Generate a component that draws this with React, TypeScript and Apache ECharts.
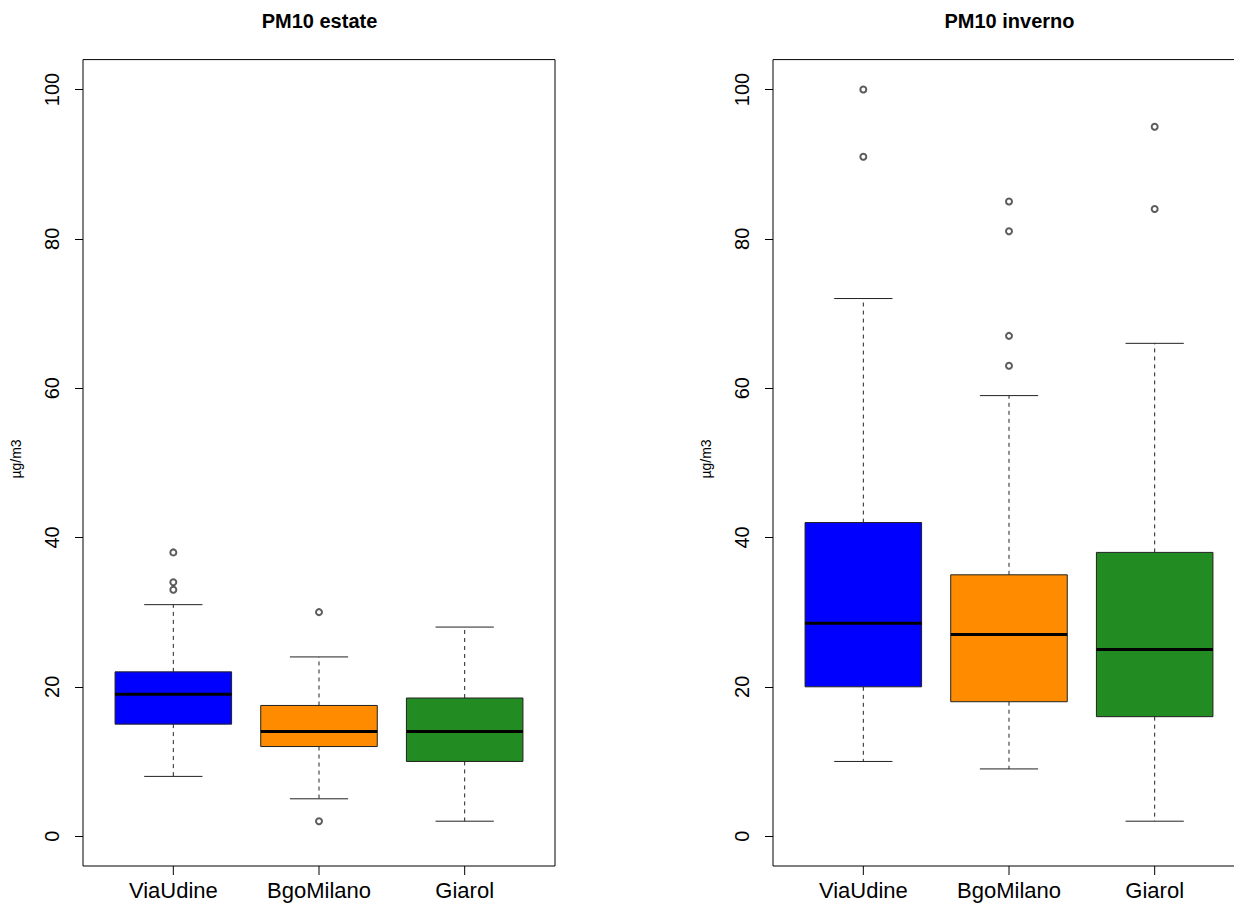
import React, { useEffect, useRef } from "react";
import * as echarts from "echarts";

const categories = ["ViaUdine", "BgoMilano", "Giarol"];
const boxColors = ["#0000FF", "#FF8C00", "#228B22"];
const yTicks = [0, 20, 40, 60, 80, 100];
const xTicks = [1, 2, 3];

// [lowerWhisker, q1, median, q3, upperWhisker]
const estateStats = [
  [8, 15, 19, 22, 31],
  [5, 12, 14, 17.5, 24],
  [2, 10, 14, 18.5, 28],
];
const estateOutliers = [
  [33, 34, 38],
  [2, 30],
  [],
];

const invernoStats = [
  [10, 20, 28.5, 42, 72],
  [9, 18, 27, 35, 59],
  [2, 16, 25, 38, 66],
];
const invernoOutliers = [
  [91, 100],
  [63, 67, 81, 85],
  [84, 95],
];

const titles = ["PM10 estate", "PM10 inverno"];
const yName = "µg/m3";

const FONT = "'Liberation Sans', Arial, Helvetica, sans-serif";

const Y_MIN = -4;
const Y_MAX = 104;
const X_MIN = 0.38;
const X_MAX = 3.62;
const GRID_TOP = 59.6;
const GRID_H = 806.4;
const GRID_W = 472;
const GRID_LEFTS = [83, 773];
const TICK_LEN = 9;

function renderBox(params: any, api: any) {
  const x = api.value(0);
  const lo = api.value(1);
  const q1 = api.value(2);
  const med = api.value(3);
  const q3 = api.value(4);
  const hi = api.value(5);
  const color = boxColors[params.dataIndex];
  const bw = api.size([0.8, 0])[0];
  const cw = bw / 2;
  const pLo = api.coord([x, lo]);
  const pQ1 = api.coord([x, q1]);
  const pMed = api.coord([x, med]);
  const pQ3 = api.coord([x, q3]);
  const pHi = api.coord([x, hi]);
  const cx = pMed[0];
  const dash = { stroke: "#222", lineWidth: 1, lineDash: [4, 4] };
  const solid = { stroke: "#222", lineWidth: 1 };
  return {
    type: "group",
    children: [
      { type: "line", shape: { x1: cx, y1: pQ1[1], x2: cx, y2: pLo[1] }, style: dash },
      { type: "line", shape: { x1: cx, y1: pQ3[1], x2: cx, y2: pHi[1] }, style: dash },
      { type: "line", shape: { x1: cx - cw / 2, y1: pLo[1], x2: cx + cw / 2, y2: pLo[1] }, style: solid },
      { type: "line", shape: { x1: cx - cw / 2, y1: pHi[1], x2: cx + cw / 2, y2: pHi[1] }, style: solid },
      {
        type: "rect",
        shape: { x: cx - bw / 2, y: pQ3[1], width: bw, height: pQ1[1] - pQ3[1] },
        style: { fill: color, stroke: "#222", lineWidth: 1 },
      },
      {
        type: "line",
        shape: { x1: cx - bw / 2, y1: pMed[1], x2: cx + bw / 2, y2: pMed[1] },
        style: { stroke: "#000", lineWidth: 3 },
      },
    ],
  };
}

function renderXTick(_params: any, api: any) {
  const p = api.coord([api.value(0), Y_MIN]);
  return {
    type: "line",
    shape: { x1: p[0], y1: p[1], x2: p[0], y2: p[1] + TICK_LEN },
    style: { stroke: "#000", lineWidth: 1 },
  };
}

export default function App() {
  const ref = useRef<HTMLDivElement>(null);
  useEffect(() => {
    if (!ref.current) return;
    const chart = echarts.init(ref.current, null, { renderer: "svg" });
    const panels = [
      { stats: estateStats, outliers: estateOutliers },
      { stats: invernoStats, outliers: invernoOutliers },
    ];
    const grids = GRID_LEFTS.map((l) => ({
      left: l,
      top: GRID_TOP,
      width: GRID_W,
      height: GRID_H,
      show: true,
      borderColor: "#000",
      borderWidth: 1,
      backgroundColor: "transparent",
      containLabel: false,
      outerBoundsMode: "none",
    }));
    const xAxes = GRID_LEFTS.map((_, i) => ({
      type: "value",
      gridIndex: i,
      position: "bottom",
      min: X_MIN,
      max: X_MAX,
      splitLine: { show: false },
      axisLine: { show: false, onZero: false },
      axisTick: { show: false },
      axisLabel: {
        customValues: xTicks,
        formatter: (v: number) => categories[Math.round(v) - 1] || "",
        fontSize: 22,
        fontFamily: FONT,
        color: "#000",
        margin: 13,
      },
    }));
    const yAxes = GRID_LEFTS.map((_, i) => ({
      type: "value",
      gridIndex: i,
      position: "left",
      min: Y_MIN,
      max: Y_MAX,
      splitLine: { show: false },
      axisLine: { show: false, onZero: false },
      axisTick: {
        show: true,
        length: 8,
        customValues: yTicks,
        lineStyle: { color: "#000", width: 1 },
      },
      axisLabel: {
        customValues: yTicks,
        rotate: 90,
        fontSize: 20,
        fontFamily: FONT,
        color: "#000",
        margin: 21,
      },
    }));
    const series: any[] = [];
    panels.forEach((p, i) => {
      series.push({
        type: "custom",
        xAxisIndex: i,
        yAxisIndex: i,
        renderItem: renderBox,
        encode: { x: 0, y: [1, 2, 3, 4, 5] },
        data: p.stats.map((s, k) => [k + 1, ...s]),
        silent: true,
      });
      const pts: number[][] = [];
      p.outliers.forEach((arr, k) => arr.forEach((v) => pts.push([k + 1, v])));
      series.push({
        type: "scatter",
        xAxisIndex: i,
        yAxisIndex: i,
        symbol: "emptyCircle",
        symbolSize: 6,
        itemStyle: { color: "#333", borderColor: "#333", borderWidth: 0.8 },
        data: pts,
        silent: true,
      });
      series.push({
        type: "custom",
        xAxisIndex: i,
        yAxisIndex: i,
        renderItem: renderXTick,
        clip: false,
        encode: { x: 0 },
        data: xTicks.map((v) => [v]),
        silent: true,
      });
    });
    const graphics: any[] = [];
    GRID_LEFTS.forEach((l, i) => {
      graphics.push({
        type: "text",
        x: l + GRID_W / 2 + 0.5,
        y: 20.5,
        style: {
          text: titles[i],
          font: `bold 20px ${FONT}`,
          fill: "#000",
          textAlign: "center",
          textVerticalAlign: "middle",
        },
      });
      graphics.push({
        type: "text",
        x: l - 67,
        y: 459,
        rotation: Math.PI / 2,
        style: {
          text: yName,
          font: `14px ${FONT}`,
          fill: "#000",
          textAlign: "center",
          textVerticalAlign: "middle",
        },
      });
    });
    chart.setOption({
      animation: false,
      backgroundColor: "#fff",
      grid: grids,
      xAxis: xAxes,
      yAxis: yAxes,
      series,
      graphic: graphics,
    });
    return () => chart.dispose();
  }, []);
  return (
    <div
      ref={ref}
      style={{ position: "absolute", left: 0, top: 0, width: 1234, height: 903 }}
    />
  );
}
